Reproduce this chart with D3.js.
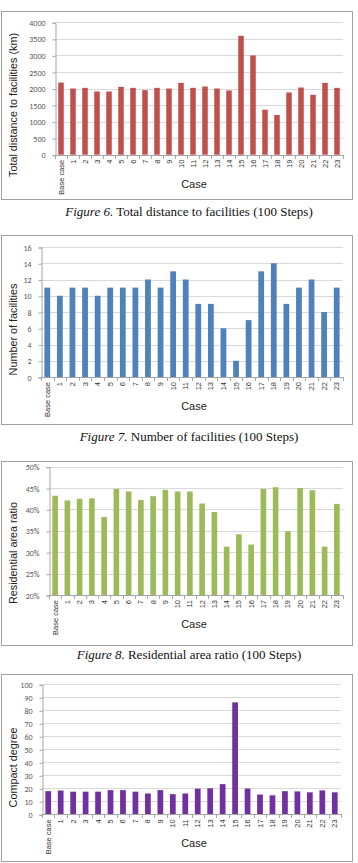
<!DOCTYPE html>
<html lang="en">
<head>
  <meta charset="UTF-8">
  <title>Case comparison charts</title>
  <script src="https://d3js.org/d3.v7.min.js"></script>
  <style>
    body { margin: 0; background: #fff; }
  </style>
</head>
<body>
  <script>
    // categories shared by all four charts
    const cases = ["Base case", "1", "2", "3", "4", "5", "6", "7", "8", "9", "10", "11",
      "12", "13", "14", "15", "16", "17", "18", "19", "20", "21", "22", "23"];

    // Figure 6 - total distance to facilities (km)
    const distanceValues = [2180, 2000, 2020, 1910, 1910, 2050, 2020, 1950, 2020, 2000, 2170, 2020,
      2060, 2000, 1940, 3590, 3000, 1360, 1200, 1880, 2030, 1810, 2170, 2020];
    const distanceTicks = [0, 500, 1000, 1500, 2000, 2500, 3000, 3500, 4000];

    // Figure 7 - number of facilities
    const facilityValues = [11, 10, 11, 11, 10, 11, 11, 11, 12, 11, 13, 12,
      9, 9, 6, 2, 7, 13, 14, 9, 11, 12, 8, 11];
    const facilityTicks = [0, 2, 4, 6, 8, 10, 12, 14, 16];

    // Figure 8 - residential area ratio
    const ratioValues = [0.432, 0.421, 0.425, 0.426, 0.382, 0.448, 0.442, 0.422, 0.431, 0.446, 0.442, 0.442,
      0.414, 0.394, 0.313, 0.342, 0.318, 0.448, 0.452, 0.349, 0.450, 0.445, 0.313, 0.413];
    const ratioTicks = [0.20, 0.25, 0.30, 0.35, 0.40, 0.45, 0.50];

    // last chart - compact degree
    const compactValues = [17.8, 18.3, 17.4, 17.4, 17.4, 18.6, 18.6, 17.4, 16.0, 18.6, 15.5, 16.0,
      19.7, 20.0, 23.2, 86.1, 19.8, 15.2, 14.6, 17.8, 17.6, 16.9, 18.4, 16.9];
    const compactTicks = [0, 10, 20, 30, 40, 50, 60, 70, 80, 90, 100];

    const width = 358;
    const height = 863;

    const svg = d3.select("body")
      .append("svg")
      .attr("width", width)
      .attr("height", height);

    const tickFont = "Carlito, 'Open Sans', 'Liberation Sans', sans-serif";
    const titleFont = "'Liberation Sans', Arial, sans-serif";

    function drawChart(opts) {
      const g = svg.append("g");

      // outer frame
      g.append("rect")
        .attr("x", 1.5)
        .attr("y", opts.boxTop + 0.5)
        .attr("width", 351)
        .attr("height", opts.boxBottom - opts.boxTop)
        .attr("fill", "#fff")
        .attr("stroke", "#a0a0a0")
        .attr("stroke-width", 1);

      const x = d3.scaleBand()
        .domain(cases)
        .range([opts.left, opts.right])
        .paddingInner(0.54)
        .paddingOuter(0.27);

      const y = d3.scaleLinear()
        .domain(opts.domain)
        .range([opts.bottom, opts.top]);

      // gridlines
      g.append("g")
        .selectAll("line")
        .data(opts.ticks.slice(1))
        .join("line")
        .attr("x1", opts.left)
        .attr("x2", opts.right)
        .attr("y1", d => Math.round(y(d)) + 0.5)
        .attr("y2", d => Math.round(y(d)) + 0.5)
        .attr("stroke", "#d9d9d9");

      // y axis
      const yAxis = d3.axisLeft(y)
        .tickValues(opts.ticks)
        .tickFormat(opts.format)
        .tickSize(3)
        .tickPadding(7);
      const ya = g.append("g")
        .attr("transform", `translate(${Math.round(opts.left) + 0.5},0.5)`)
        .call(yAxis);
      ya.select(".domain").attr("stroke", "#a6a6a6");
      ya.selectAll(".tick line").attr("stroke", "#a6a6a6");
      ya.selectAll(".tick text")
        .attr("fill", "#595959")
        .style("font-family", tickFont)
        .style("font-size", "8px");

      // bars
      g.append("g")
        .selectAll("rect")
        .data(opts.values)
        .join("rect")
        .attr("x", (d, i) => x(cases[i]))
        .attr("y", d => y(d))
        .attr("width", x.bandwidth())
        .attr("height", d => opts.bottom - y(d))
        .attr("fill", opts.color);

      // x axis with ticks between categories
      const xa = g.append("g");
      xa.append("line")
        .attr("x1", opts.left)
        .attr("x2", opts.right)
        .attr("y1", Math.round(opts.bottom) + 0.5)
        .attr("y2", Math.round(opts.bottom) + 0.5)
        .attr("stroke", "#a6a6a6");
      xa.selectAll(".sep")
        .data(d3.range(cases.length + 1))
        .join("line")
        .attr("class", "sep")
        .attr("x1", i => Math.round(opts.left + i * x.step()) + 0.5)
        .attr("x2", i => Math.round(opts.left + i * x.step()) + 0.5)
        .attr("y1", Math.round(opts.bottom))
        .attr("y2", Math.round(opts.bottom) + 4)
        .attr("stroke", "#a6a6a6");
      xa.selectAll("text")
        .data(cases)
        .join("text")
        .attr("transform", d => `translate(${x(d) + x.bandwidth() / 2 + 2.5},${opts.bottom + 5}) rotate(-90)`)
        .attr("text-anchor", "end")
        .attr("fill", "#333")
        .style("font-family", "'Liberation Sans Narrow', " + titleFont)
        .style("font-size", "7.5px")
        .text(d => d);

      // axis titles
      g.append("text")
        .attr("transform", `translate(16.5,${(opts.boxTop + opts.boxBottom) / 2}) rotate(-90)`)
        .attr("text-anchor", "middle")
        .attr("fill", "#222")
        .style("font-family", titleFont)
        .style("font-size", "10.8px")
        .text(opts.yTitle);

      g.append("text")
        .attr("x", 194)
        .attr("y", opts.bottom + 33)
        .attr("text-anchor", "middle")
        .attr("fill", "#222")
        .style("font-family", titleFont)
        .style("font-size", "11px")
        .text("Case");

      // figure caption under the frame
      if (opts.caption) {
        const cap = svg.append("text")
          .attr("x", 189)
          .attr("y", opts.captionY)
          .attr("text-anchor", "middle")
          .style("font-family", "'Liberation Serif', 'Times New Roman', serif")
          .style("font-size", "13px")
          .attr("fill", "#111");
        cap.append("tspan").style("font-style", "italic").text(opts.caption[0]);
        cap.append("tspan").text(opts.caption[1]);
      }
    }

    drawChart({
      values: distanceValues, ticks: distanceTicks, domain: [0, 4000],
      format: d3.format("d"), color: "#c0504d",
      boxTop: 11, boxBottom: 199, left: 55, right: 343, top: 22.3, bottom: 154.7,
      yTitle: "Total distance to facilities (km)",
      caption: ["Figure 6.", " Total distance to facilities (100 Steps)"], captionY: 216
    });

    drawChart({
      values: facilityValues, ticks: facilityTicks, domain: [0, 16],
      format: d3.format("d"), color: "#4f81bd",
      boxTop: 235, boxBottom: 424, left: 41, right: 343, top: 247, bottom: 377,
      yTitle: "Number of facilities",
      caption: ["Figure 7.", " Number of facilities (100 Steps)"], captionY: 441
    });

    drawChart({
      values: ratioValues, ticks: ratioTicks, domain: [0.20, 0.50],
      format: d3.format(".0%"), color: "#9bbb59",
      boxTop: 461, boxBottom: 645, left: 49, right: 343, top: 466.7, bottom: 595,
      yTitle: "Residential area ratio",
      caption: ["Figure 8.", " Residential area ratio (100 Steps)"], captionY: 659
    });

    drawChart({
      values: compactValues, ticks: compactTicks, domain: [0, 100],
      format: d3.format("d"), color: "#7030a0",
      boxTop: 674, boxBottom: 861, left: 42, right: 341, top: 684.3, bottom: 814.3,
      yTitle: "Compact degree",
      caption: null
    });
  </script>
</body>
</html>
